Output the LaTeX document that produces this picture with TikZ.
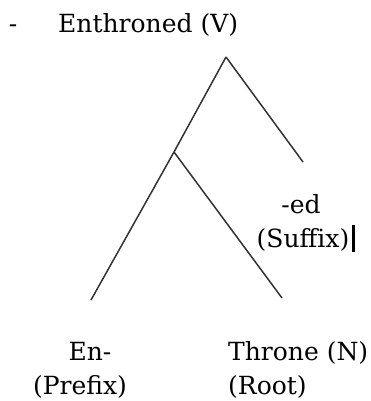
\documentclass[tikz,border=0pt]{standalone}
\usepackage{fontspec}
\setmainfont{DejaVu Serif}
\begin{document}
\begin{tikzpicture}[x=1pt, y=-1pt, font=\fontsize{25}{34}\selectfont]
    \useasboundingbox (0,0) rectangle (371,401);
    % Word tree for "Enthroned"
    \node[anchor=base, inner sep=0] (dash) at (13, 33) {-};
    \node[anchor=base west, inner sep=0] (word) at (58, 33) {Enthroned (V)};

    \coordinate (top) at (226, 57);
    \coordinate (mid) at (174, 152);
    \coordinate (sufend) at (303, 162);
    \coordinate (preend) at (91, 300);
    \coordinate (rootend) at (282, 298);

    \draw[line width=1.5pt, black!80] (top) -- (mid) -- (preend);
    \draw[line width=1.5pt, black!80] (top) -- (sufend);
    \draw[line width=1.5pt, black!80] (mid) -- (rootend);

    \node[anchor=base, inner sep=0, align=center] (suffix) at (301, 213) {-ed};
    \node[anchor=base, inner sep=0] (suffixb) at (303, 247) {(Suffix)};
    \fill (352, 225) rectangle (355, 252);

    \node[anchor=base, inner sep=0] (prefix) at (90, 360) {En-};
    \node[anchor=base, inner sep=0] (prefixb) at (80, 394) {(Prefix)};

    \node[anchor=base west, inner sep=0] (root) at (228, 360) {Throne (N)};
    \node[anchor=base west, inner sep=0] (rootb) at (228, 394) {(Root)};
\end{tikzpicture}
\end{document}
